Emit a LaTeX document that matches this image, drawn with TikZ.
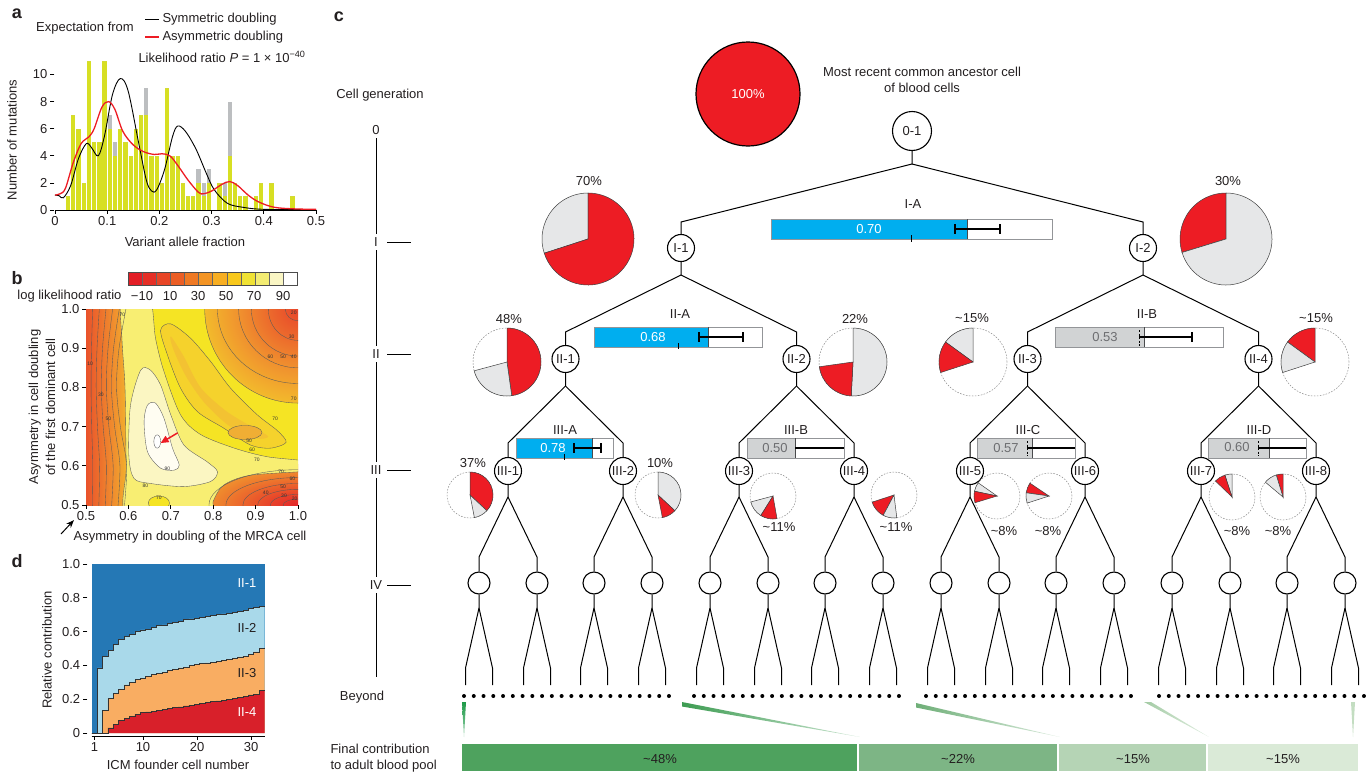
\documentclass[tikz,border=0pt]{standalone}
\usepackage{fontspec}
\setmainfont{Liberation Sans}
\usetikzlibrary{arrows.meta}

\definecolor{txt}{HTML}{231F20}
\definecolor{pieRed}{HTML}{ED1C24}
\definecolor{pieGray}{HTML}{E6E7E8}
\definecolor{barBlue}{HTML}{00AEEF}
\definecolor{barGray}{HTML}{D1D3D4}
\definecolor{barEdge}{HTML}{939598}
\definecolor{barText}{HTML}{6D6E71}
\definecolor{histY}{HTML}{D7DF23}
\definecolor{histG}{HTML}{BCBEC0}
\definecolor{curveRed}{HTML}{ED1C24}
\definecolor{dI}{HTML}{2578B5}
\definecolor{dII}{HTML}{A9D9EA}
\definecolor{dIII}{HTML}{F9AD62}
\definecolor{dIV}{HTML}{D8202A}
\definecolor{fin1}{HTML}{4EA25E}
\definecolor{fin2}{HTML}{7DB585}
\definecolor{fin3}{HTML}{B5D4B5}
\definecolor{fin4}{HTML}{DAEAD7}
\definecolor{wedgeA}{HTML}{1E9A48}
\definecolor{wedgeB}{HTML}{3D9C52}
\definecolor{wedgeC}{HTML}{6FAF78}
\definecolor{wedgeD}{HTML}{A3CBA4}
\definecolor{wedgeE}{HTML}{C3DDC1}
\definecolor{hmBase}{HTML}{F5E424}
\definecolor{hmRed}{HTML}{E3262A}
\definecolor{hmR2}{HTML}{E8452A}
\definecolor{hmO1}{HTML}{EC6A2C}
\definecolor{hmO2}{HTML}{F0922E}
\definecolor{hmO3}{HTML}{F3BE2C}
\definecolor{hmOr}{HTML}{F5D22C}
\definecolor{hmOr2}{HTML}{F3C232}
\definecolor{hmOr3}{HTML}{F0AE34}
\definecolor{hmLt}{HTML}{F8EE72}
\definecolor{hm80}{HTML}{FBF6C2}
\definecolor{hm90}{HTML}{FFFDF2}

\pgfdeclarehorizontalshading{hmleft}{100bp}{color(0bp)=(hmRed); color(18bp)=(hmR2); color(38bp)=(hmO1); color(60bp)=(hmO2); color(80bp)=(hmO3); color(100bp)=(hmBase)}
\pgfdeclareradialshading{hmcorner}{\pgfpoint{0bp}{0bp}}{color(0bp)=(hmR2); color(8bp)=(hmO1); color(16bp)=(hmO2); color(26bp)=(hmO3); color(36bp)=(hmOr); color(44bp)=(hmBase); color(50bp)=(hmBase)}
\pgfdeclareradialshading{hmcornerlow}{\pgfpoint{0bp}{0bp}}{color(0bp)=(hmRed); color(7bp)=(hmR2); color(14bp)=(hmO1); color(22bp)=(hmO2); color(32bp)=(hmO3); color(44bp)=(hmBase); color(50bp)=(hmBase)}

\tikzset{
  panel/.style={font=\fontsize{18}{18}\selectfont\bfseries},
  cell/.style={circle,draw,line width=1.1pt,fill=white,inner sep=0pt,minimum size=27pt},
  rootcell/.style={cell,minimum size=39pt},
  leafcell/.style={cell,minimum size=22pt},
  tree/.style={line width=1pt},
  genaxis/.style={line width=1pt},
  slice/.style={draw=black!75,line width=0.5pt},
  ghost/.style={draw=black!45,dash pattern=on 1.6pt off 1.4pt,line width=0.5pt},
  effbox/.style={draw=barEdge,line width=1pt},
  errbar/.style={line width=1.1pt},
  symline/.style={line width=0.9pt,black},
  asymline/.style={line width=1.3pt,curveRed},
  contour/.style={draw=black!65,line width=0.35pt},
  clabel/.style={font=\fontsize{5}{5}\selectfont,inner sep=0.3pt,text=black!80},
  stepline/.style={line width=0.6pt,black!80},
  axis/.style={line width=0.8pt},
  redarrow/.style={-{Triangle[length=8pt,width=7pt]},line width=1.5pt,curveRed}
}

\newcommand{\tld}{\textasciitilde}
\newcommand{\pieslice}[4]{\filldraw[slice,fill=#4] (0,0) -- (#1:#3) arc[start angle=#1,end angle=#2,radius=#3] -- cycle;}
\newcommand{\celldiv}[5]{%
  \draw[tree] (#1) -- (#1 |- 0,#4) coordinate (#1j) -- (#2 |- 0,#5) -- (#2);
  \draw[tree] (#1j) -- (#3 |- 0,#5) -- (#3);}
\newcommand{\effbar}[5]{%
  \fill[#5] (#1,#4) rectangle (#3,#4+20);
  \draw[effbox] (#1,#4) rectangle (#2,#4+20);
  \draw[barEdge!50!black,line width=0.8pt] (#3,#4) -- (#3,#4+20);}

\begin{document}
\begin{tikzpicture}[x=1pt,y=-1pt,font=\fontsize{13}{15}\selectfont,text=txt]
\useasboundingbox (0,0) rectangle (1367,771);

% a
\node[panel] (pa) at (17,14) {a};
\node (expfrom) at (85,28) {Expectation from};
\node[anchor=west] (legsym) at (159,19) {Symmetric doubling};
\node[anchor=west] (legasym) at (159,37) {Asymmetric doubling};
\draw[symline] (legsym.west) -- ++(-14,0);
\draw[asymline] (legasym.west) -- ++(-14,0);
\node (lrtest) at (222,57) {Likelihood ratio \textit{P} = 1 × 10\textsuperscript{−40}};
\begin{scope}[shift={(55,210)},x=522pt,y=13.55pt]
  \foreach \k/\h/\g in {2/1/0,3/7/0,4/6/0,5/2/0,6/11/0,7/5/0,8/5/0,9/11/0,10/6/1,11/4/1,12/6/0,13/5/0,14/4/0,15/6/0,16/7/0,17/7/2,18/4/0,19/4/0,20/2/0,21/9/0,22/4/0,23/4/0,24/2/0,25/1/0,26/1/0,27/2/1,28/1/1,29/2/1,31/2/0,32/1/1,33/4/4,34/2/0,35/1/0,36/1/0,38/1/0,39/2/0,41/2/0,45/1/0}{
    \fill[histY] ({\k/100+0.0009},0) rectangle ({\k/100+0.0091},\h);
    \fill[histG] ({\k/100+0.0009},\h) rectangle ({\k/100+0.0091},{\h+\g});
  }
  \draw[symline] plot[smooth,tension=0.55] coordinates {(0,1.1) (0.008,1.05) (0.016,0.9) (0.03,1.8) (0.045,3.8) (0.06,4.9) (0.07,4.6) (0.083,4) (0.095,5.5) (0.11,8.5) (0.125,9.7) (0.14,8.8) (0.16,5) (0.175,2.2) (0.185,1.4) (0.195,1.5) (0.21,3) (0.225,5.4) (0.235,6.2) (0.25,5.8) (0.27,4.5) (0.29,2.7) (0.305,1.5) (0.33,0.5) (0.36,0.2) (0.4,0.05) (0.5,0.02)};
  \draw[asymline] plot[smooth,tension=0.55] coordinates {(0,1.1) (0.01,1.2) (0.02,1.6) (0.035,3.5) (0.05,4.9) (0.065,5.4) (0.075,6) (0.09,7.6) (0.103,8) (0.115,7.4) (0.13,5.8) (0.15,4.8) (0.17,4.3) (0.19,4.1) (0.205,4.15) (0.22,4) (0.235,3.3) (0.255,2.2) (0.275,1.3) (0.285,1.2) (0.3,1.4) (0.32,1.9) (0.335,2.1) (0.35,1.8) (0.37,1.1) (0.39,0.6) (0.42,0.2) (0.46,0.08) (0.5,0.05)};
  \draw[axis] (0,0) -- (0.5,0);
  \foreach \tk [count=\i] in {0,0.1,0.2,0.3,0.4,0.5}
    \draw[axis] (\tk,0) -- ++(0,-0.3) node[below,inner sep=2pt] (ax\i) {\tk};
  \foreach \val [count=\i] in {0,2,4,6,8,10}
    \draw[axis] (-0.001,\val) -- ++(-0.009,0) node[left,inner sep=2pt] (ay\i) {\val};
\end{scope}
\node[rotate=90] (ylaba) at (12,140) {Number of mutations};
\node (xlaba) at (185,242) {Variant allele fraction};

% b
\node[panel] (pb) at (17,278) {b};
\foreach \c [count=\i from 0] in {E31E26,E52F26,E84526,EB5E25,EF7924,F39424,F7AE22,F8C81C,F0E234,F3EC72,FAF6C4,FFFFFF}{
  \definecolor{cb}{HTML}{\c}
  \fill[cb] ({128+\i*14.1},272) rectangle ({128+(\i+1)*14.1},285);
}
\foreach \i in {1,...,11} \draw[black!60,line width=0.4pt] ({128+\i*14.1},272) -- ++(0,13);
\draw[black!70,line width=0.6pt] (128,272) rectangle (297,285);
\foreach \lv/\xx [count=\i] in {−10/142,10/170,30/198,50/226,70/254,90/283}
  \node (cbt\i) at (\xx,296) {\lv};
\node[anchor=east] (cblab) at (125,296) {log likelihood ratio};
\begin{scope}[shift={(-126,701)},x=424pt,y=392pt]
  \begin{scope}
    \clip (0.5,0.5) rectangle (1,1);
    \fill[hmBase] (0.5,0.5) rectangle (1,1);
    \shade[shading=hmleft] (0.5,0.49) rectangle (0.598,1.01);
    \shade[shading=hmcorner] (1,1) ellipse [x radius=0.22,y radius=0.24];
    \shade[shading=hmcornerlow] (1,0.5) ellipse [x radius=0.25,y radius=0.105];
    \filldraw[contour,fill=hmOr] plot[smooth cycle] coordinates {(0.676,0.946) (0.692,0.883) (0.723,0.798) (0.763,0.738) (0.825,0.696) (0.888,0.653) (0.935,0.645) (0.972,0.66) (0.951,0.69) (0.904,0.73) (0.841,0.798) (0.794,0.866) (0.747,0.925) (0.70,0.962)};
    \fill[hmOr2] plot[smooth cycle] coordinates {(0.70,0.93) (0.73,0.88) (0.77,0.80) (0.83,0.74) (0.89,0.70) (0.93,0.675) (0.90,0.67) (0.84,0.70) (0.78,0.76) (0.735,0.83) (0.705,0.90)};
    \filldraw[contour,fill=hmOr3] (0.875,0.685) ellipse [x radius=0.04,y radius=0.018];
    \filldraw[contour,fill=hmLt] plot[smooth cycle] coordinates {(0.585,1.03) (0.649,1.03) (0.664,0.925) (0.684,0.84) (0.723,0.73) (0.77,0.68) (0.85,0.645) (0.928,0.623) (1.03,0.61) (1.03,0.588) (0.888,0.576) (0.825,0.551) (0.80,0.51) (0.79,0.47) (0.60,0.47) (0.595,0.6) (0.592,0.8) (0.585,0.92)};
    \filldraw[contour,fill=hmBase] (0.672,0.505) ellipse [x radius=0.025,y radius=0.018];
    \filldraw[contour,fill=hm80] plot[smooth cycle] coordinates {(0.629,0.844) (0.652,0.844) (0.676,0.806) (0.70,0.73) (0.731,0.653) (0.786,0.61) (0.81,0.585) (0.794,0.56) (0.731,0.547) (0.652,0.555) (0.613,0.568) (0.601,0.628) (0.605,0.755)};
    \filldraw[contour,fill=hm90] plot[smooth cycle] coordinates {(0.645,0.755) (0.664,0.76) (0.684,0.721) (0.704,0.645) (0.72,0.602) (0.708,0.589) (0.676,0.594) (0.645,0.636) (0.637,0.713)};
    \filldraw[contour,fill=white] (0.668,0.662) ellipse [x radius=0.008,y radius=0.017];
    \foreach \k in {1,...,6}
      \draw[contour] plot[smooth] coordinates {({0.5+0.016*\k},1.01) ({0.5+0.013*\k},0.9) ({0.5+0.012*\k},0.8) ({0.5+0.0135*\k},0.7) ({0.5+0.016*\k},0.6) ({0.5+0.015*\k},0.49)};
    \foreach \rx/\ry in {0.22/0.24,0.19/0.19,0.14/0.15,0.11/0.12,0.07/0.08,0.03/0.03}
      \draw[contour] (1,1) ellipse [x radius=\rx,y radius=\ry];
    \foreach \rx/\ry in {0.21/0.09,0.17/0.07,0.13/0.055,0.095/0.04,0.065/0.027,0.035/0.015}
      \draw[contour] (1,0.5) ellipse [x radius=\rx,y radius=\ry];
    \foreach \lx/\ly/\lt [count=\i] in {0.692/0.592/90,0.64/0.548/80,0.672/0.518/70,0.885/0.664/50,0.892/0.64/60,0.903/0.616/70,0.946/0.72/70,0.553/0.72/50,0.535/0.78/30,0.51/0.86/10,0.586/0.985/70,0.935/0.878/60,0.965/0.878/50,0.99/0.878/40,0.985/0.93/30,0.99/0.99/20,0.99/0.77/70,0.924/0.53/40,0.967/0.524/30,0.992/0.517/20,0.965/0.547/50,0.987/0.566/60,0.96/0.585/70}
      \node[clabel] (cl\i) at (\lx,\ly) {\lt};
    \draw[redarrow] (0.716,0.684) -- (0.676,0.658);
  \end{scope}
  \foreach \tk [count=\i] in {0.5,0.6,0.7,0.8,0.9,1.0}{
    \draw[axis] (\tk,0.5) -- ++(0,-0.01) node[below,inner sep=2pt] (bx\i) {\tk};
    \draw[axis] (0.5,\tk) -- ++(-0.01,0) node[left,inner sep=2pt] (by\i) {\tk};
  }
\end{scope}
\node[rotate=90,align=center,font=\fontsize{13}{17}\selectfont] (ylabb) at (42,407) {Asymmetry in cell doubling\\of the first dominant cell};
\node (xlabb) at (190,537) {Asymmetry in doubling of the MRCA cell};
\draw[-{Stealth[length=8pt,width=6pt]},line width=1pt] (61,534) -- (74,520);

% d
\node[panel] (pd) at (17,561) {d};
\def\fone{1/0,2/0.385,3/0.455,4/0.49,5/0.525,6/0.555,7/0.57,8/0.585,9/0.6,10/0.61,11/0.615,12/0.625,13/0.635,14/0.64,15/0.65,16/0.655,17/0.66,18/0.67,19/0.675,20/0.68,21/0.685,22/0.69,23/0.695,24/0.7,25/0.705,26/0.71,27/0.715,28/0.72,29/0.725,30/0.735,31/0.745,32/0.75}
\def\ftwo{1/0,2/0,3/0.135,4/0.205,5/0.235,6/0.26,7/0.285,8/0.3,9/0.315,10/0.325,11/0.335,12/0.345,13/0.355,14/0.36,15/0.37,16/0.375,17/0.385,18/0.39,19/0.4,20/0.405,21/0.41,22/0.415,23/0.42,24/0.425,25/0.43,26/0.435,27/0.44,28/0.45,29/0.455,30/0.465,31/0.48,32/0.5}
\def\fthree{1/0,2/0,3/0,4/0.03,5/0.05,6/0.075,7/0.085,8/0.1,9/0.11,10/0.12,11/0.125,12/0.13,13/0.135,14/0.14,15/0.145,16/0.15,17/0.155,18/0.16,19/0.165,20/0.17,21/0.175,22/0.18,23/0.185,24/0.19,25/0.195,26/0.2,27/0.205,28/0.21,29/0.215,30/0.225,31/0.23,32/0.25}
\begin{scope}[shift={(89,733)},x=5.4pt,y=169pt]
  \fill[dI] (0.5,0) rectangle (32.5,1);
  \fill[dII] (0.5,0) \foreach \nc/\val in \fone {-- (\nc-0.5,\val) -- (\nc+0.5,\val)} -- (32.5,0) -- cycle;
  \fill[dIII] (0.5,0) \foreach \nc/\val in \ftwo {-- (\nc-0.5,\val) -- (\nc+0.5,\val)} -- (32.5,0) -- cycle;
  \fill[dIV] (0.5,0) \foreach \nc/\val in \fthree {-- (\nc-0.5,\val) -- (\nc+0.5,\val)} -- (32.5,0) -- cycle;
  \draw[stepline] (0.5,0) \foreach \nc/\val in \fone {-- (\nc-0.5,\val) -- (\nc+0.5,\val)};
  \draw[stepline] (0.5,0) \foreach \nc/\val in \ftwo {-- (\nc-0.5,\val) -- (\nc+0.5,\val)};
  \draw[stepline] (0.5,0) \foreach \nc/\val in \fthree {-- (\nc-0.5,\val) -- (\nc+0.5,\val)};
  \draw[axis] (0.5,-0.018) -- (32.5,-0.018);
  \foreach \nc [count=\i] in {1,10,20,30}
    \draw[axis] (\nc,-0.018) -- ++(0,-0.025) node[below,inner sep=2pt] (dx\i) {\nc};
  \foreach \val/\lt [count=\i] in {0/0,0.2/0.2,0.4/0.4,0.6/0.6,0.8/0.8,1/1.0}
    \draw[axis] (-0.3,\val) -- ++(-0.9,0) node[left,inner sep=2pt] (dy\i) {\lt};
\end{scope}
\node[text=white] (dl1) at (247,583) {II-1};
\node (dl2) at (247,628) {II-2};
\node (dl3) at (247,673) {II-3};
\node[text=white] (dl4) at (247,712) {II-4};
\node[rotate=90] (ylabd) at (47,650) {Relative contribution};
\node (xlabd) at (178,765) {ICM founder cell number};

% c
\node[panel] (pc) at (339,17) {c};
\node (cellgen) at (380,95) {Cell generation};
\node (g0) at (376,130) {0};
\node (g1) at (376,242) {I};
\node (g2) at (376,354) {II};
\node (g3) at (376,470) {III};
\node (g4) at (376,585) {IV};
\draw[genaxis] (g0) -- (g1);
\draw[genaxis] (g1) -- (g2);
\draw[genaxis] (g2) -- (g3);
\draw[genaxis] (g3) -- (g4);
\draw[genaxis] (g4) -- (376,677);
\foreach \yy in {242,354,470,585} \draw[genaxis] (387,\yy) -- (411,\yy);
\node (beyond) at (362,697) {Beyond};
\node[anchor=west] (fincon) at (327,749) {Final contribution};
\node[anchor=west] (finpool) at (327,766) {to adult blood pool};

\node[circle,draw,line width=1.2pt,fill=pieRed,minimum size=104pt,text=white] (mrca) at (748,94) {100\%};
\node[align=center,font=\fontsize{13}{16}\selectfont] (mrcatext) at (922,80) {Most recent common ancestor cell\\of blood cells};

\node[rootcell] (c01) at (912,131) {0-1};
\node[cell] (cI1) at (681,248) {I-1};
\node[cell] (cI2) at (1143,248) {I-2};
\node[cell] (cII1) at (565.5,359) {II-1};
\node[cell] (cII2) at (796.5,359) {II-2};
\node[cell] (cII3) at (1027.5,359) {II-3};
\node[cell] (cII4) at (1258.5,359) {II-4};
\foreach \xx [count=\i] in {508,623,739,854,970,1085,1201,1316}
  \node[cell] (cIII\i) at (\xx,471) {III-\i};
\foreach \xx [count=\i] in {479,537,594,652,710,768,825,883,941,999,1056,1114,1172,1230,1287,1345}{
  \node[leafcell] (cIV\i) at (\xx,583) {};
  \draw[tree] (cIV\i) -- (\xx,608) coordinate (jIV\i) -- ++(-13.5,60) -- ++(0,17);
  \draw[tree] (jIV\i) -- ++(13.5,60) -- ++(0,17);
}
\celldiv{c01}{cI1}{cI2}{164}{222}
\celldiv{cI1}{cII1}{cII2}{275}{332}
\celldiv{cI2}{cII3}{cII4}{275}{332}
\celldiv{cII1}{cIII1}{cIII2}{386}{443}
\celldiv{cII2}{cIII3}{cIII4}{386}{443}
\celldiv{cII3}{cIII5}{cIII6}{386}{443}
\celldiv{cII4}{cIII7}{cIII8}{386}{443}
\foreach \i in {1,...,8}{
  \pgfmathtruncatemacro\la{2*\i-1}
  \pgfmathtruncatemacro\lb{2*\i}
  \celldiv{cIII\i}{cIV\la}{cIV\lb}{497}{557}
}

% efficiency bars
\effbar{771}{1052}{967}{219}{barBlue}
\node[text=white] (vIA) at (869,229) {0.70};
\draw[errbar] (955,224) -- (955,234) (955,229) -- (1000,229) (1000,224) -- (1000,234);
\draw[tree] (911,235) -- (911,242);
\node (lIA) at (913,204) {I-A};

\effbar{594}{762}{708}{327}{barBlue}
\node[text=white] (vIIA) at (653,337) {0.68};
\draw[errbar] (699,332) -- (699,342) (699,337) -- (743,337) (743,332) -- (743,342);
\draw[tree] (678,343) -- (678,349);
\node (lIIA) at (680,314) {II-A};

\effbar{1055}{1223}{1144}{327}{barGray}
\node[text=barText] (vIIB) at (1105,337) {0.53};
\draw[line width=0.8pt,dash pattern=on 2pt off 1.5pt] (1139,330) -- (1139,346);
\draw[errbar] (1139,337) -- (1192,337) (1192,332) -- (1192,342);
\node (lIIB) at (1147,314) {II-B};

\effbar{516}{613}{592}{438}{barBlue}
\node[text=white] (vIIIA) at (553,448) {0.78};
\draw[errbar] (574,443) -- (574,453) (574,448) -- (601,448) (601,443) -- (601,453);
\draw[tree] (564,454) -- (564,460);
\node (lIIIA) at (565,430) {III-A};

\effbar{747}{844}{795}{438}{barGray}
\node[text=barText] (vIIIB) at (775,448) {0.50};
\draw[errbar,line width=1.5pt] (795,448) -- (844,448);
\node (lIIIB) at (796,430) {III-B};

\effbar{977}{1075}{1032}{438}{barGray}
\node[text=barText] (vIIIC) at (1006,448) {0.57};
\draw[line width=0.8pt,dash pattern=on 2pt off 1.5pt] (1027,441) -- (1027,456);
\draw[errbar,line width=1.5pt] (1027,448) -- (1075,448);
\node (lIIIC) at (1028,430) {III-C};

\effbar{1208}{1306}{1269}{438}{barGray}
\node[text=barText] (vIIID) at (1237,447) {0.60};
\draw[line width=0.8pt,dash pattern=on 2pt off 1.5pt] (1258,441) -- (1258,456);
\draw[errbar,line width=1.5pt] (1258,448) -- (1306,448);
\node (lIIID) at (1259,430) {III-D};

% pies
\begin{scope}[shift={(588,239)},yscale=-1]
  \pieslice{90}{198}{46}{pieGray}
  \pieslice{198}{450}{46}{pieRed}
\end{scope}
\begin{scope}[shift={(1226,239)},yscale=-1]
  \pieslice{90}{197}{46}{pieRed}
  \pieslice{197}{450}{46}{pieGray}
\end{scope}
\begin{scope}[shift={(507,362)},yscale=-1]
  \draw[ghost] (0,0) circle (34);
  \pieslice{-82}{90}{34}{pieRed}
  \pieslice{195}{278}{34}{pieGray}
\end{scope}
\begin{scope}[shift={(853,362)},yscale=-1]
  \draw[ghost] (0,0) circle (34);
  \pieslice{-93}{90}{34}{pieGray}
  \pieslice{188}{267}{34}{pieRed}
\end{scope}
\begin{scope}[shift={(973,362)},yscale=-1]
  \draw[ghost] (0,0) circle (34);
  \pieslice{90}{144}{34}{pieGray}
  \pieslice{144}{198}{34}{pieRed}
\end{scope}
\begin{scope}[shift={(1315,362)},yscale=-1]
  \draw[ghost] (0,0) circle (34);
  \pieslice{90}{144}{34}{pieRed}
  \pieslice{144}{198}{34}{pieGray}
\end{scope}
\begin{scope}[shift={(470,495)},yscale=-1]
  \draw[ghost] (0,0) circle (23);
  \pieslice{-43}{90}{23}{pieRed}
  \pieslice{-79}{-43}{23}{pieGray}
\end{scope}
\begin{scope}[shift={(658,495)},yscale=-1]
  \draw[ghost] (0,0) circle (23);
  \pieslice{-43}{90}{23}{pieGray}
  \pieslice{-79}{-43}{23}{pieRed}
\end{scope}
\begin{scope}[shift={(773,496)},yscale=-1]
  \draw[ghost] (0,0) circle (23);
  \pieslice{195}{238}{23}{pieGray}
  \pieslice{238}{280}{23}{pieRed}
\end{scope}
\begin{scope}[shift={(894,495)},yscale=-1]
  \draw[ghost] (0,0) circle (23);
  \pieslice{198}{242}{23}{pieRed}
  \pieslice{242}{277}{23}{pieGray}
\end{scope}
\begin{scope}[shift={(997,496)},yscale=-1]
  \draw[ghost] (0,0) circle (23);
  \pieslice{145}{168}{23}{pieGray}
  \pieslice{168}{197}{23}{pieRed}
\end{scope}
\begin{scope}[shift={(1049,496)},yscale=-1]
  \draw[ghost] (0,0) circle (23);
  \pieslice{146}{172}{23}{pieRed}
  \pieslice{172}{198}{23}{pieGray}
\end{scope}
\begin{scope}[shift={(1232,497)},yscale=-1]
  \draw[ghost] (0,0) circle (23);
  \pieslice{90}{108}{23}{pieGray}
  \pieslice{108}{136}{23}{pieRed}
\end{scope}
\begin{scope}[shift={(1283,497)},yscale=-1]
  \draw[ghost] (0,0) circle (23);
  \pieslice{90}{107}{23}{pieRed}
  \pieslice{107}{140}{23}{pieGray}
\end{scope}
\node (pct70) at (589,181) {70\%};
\node (pct30) at (1228,181) {30\%};
\node (pct48) at (509,319) {48\%};
\node (pct22) at (855,319) {22\%};
\node (pct15a) at (972,318) {\tld15\%};
\node (pct15b) at (1316,318) {\tld15\%};
\node (pct37) at (473,463) {37\%};
\node (pct10) at (660,463) {10\%};
\node (pct11a) at (779,527) {\tld11\%};
\node (pct11b) at (896,527) {\tld11\%};
\node (pct8a) at (1004,531) {\tld8\%};
\node (pct8b) at (1048,531) {\tld8\%};
\node (pct8c) at (1237,531) {\tld8\%};
\node (pct8d) at (1278,531) {\tld8\%};

% beyond
\foreach \gx in {464,694,926,1159}
  \foreach \k in {0,...,21}
    \fill ({\gx+\k*9.76},696) circle (2pt);
\shade[top color=wedgeA,bottom color=wedgeA!45] (462,702) -- (466,702) -- (464,737) -- cycle;
\shade[left color=wedgeB,right color=wedgeB!25] (682,702) -- (682,706.5) -- (860,737) -- cycle;
\shade[left color=wedgeC,right color=wedgeC!25] (916,703) -- (916,707.5) -- (1060,737) -- cycle;
\shade[left color=wedgeD,right color=wedgeD!30] (1144,702) -- (1151,702) -- (1209,737) -- cycle;
\fill[wedgeE] (1351,702) -- (1355,702) -- (1353,737) -- cycle;
\fill[fin1] (462,744) rectangle (857,771);
\fill[fin2] (858.5,744) rectangle (1057,771);
\fill[fin3] (1058.5,744) rectangle (1206,771);
\fill[fin4] (1207.5,744) rectangle (1358,771);
\node (fin48) at (660,759) {\tld48\%};
\node (fin22) at (958,759) {\tld22\%};
\node (fin15a) at (1133,759) {\tld15\%};
\node (fin15b) at (1283,759) {\tld15\%};
\end{tikzpicture}
\end{document}
